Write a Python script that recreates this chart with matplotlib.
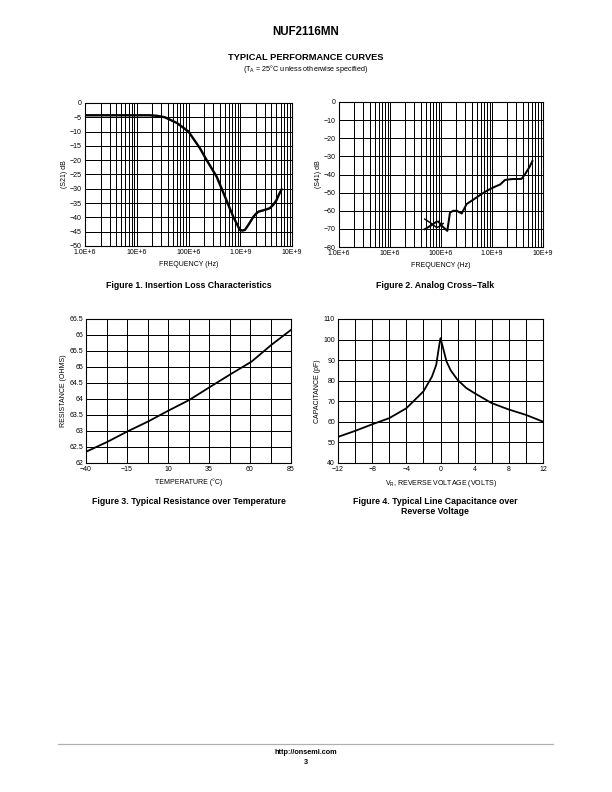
import matplotlib
matplotlib.use("Agg")
import matplotlib.pyplot as plt
from matplotlib.ticker import FixedLocator, LogLocator, NullFormatter

plt.rcParams['font.family'] = ['Liberation Sans', 'DejaVu Sans']
plt.rcParams['mathtext.fontset'] = 'custom'
plt.rcParams['mathtext.rm'] = 'Liberation Sans'
plt.rcParams['mathtext.it'] = 'Liberation Sans'

# ---------------- data ----------------
# Figure 1: insertion loss S21 (dB) vs frequency (Hz)
f1_freq = [1e6, 5e6, 10e6, 18e6, 25e6, 35e6, 60e6, 100e6, 166e6, 225e6, 351e6,
           500e6, 734e6, 900e6, 989e6, 1.1e9, 1.23e9, 1.45e9, 1.79e9, 2.0e9,
           2.24e9, 2.7e9, 3.2e9, 3.7e9, 4.3e9, 5.0e9, 5.6e9, 6.3e9]
f1_s21 = [-4.3, -4.3, -4.3, -4.3, -4.5, -5.0, -7.0, -10.0, -15.8, -20.0, -25.8,
          -32.5, -39.8, -43.0, -44.4, -44.6, -44.4, -42.5, -39.8, -38.8,
          -38.0, -37.6, -37.2, -36.8, -35.7, -34.0, -32.0, -30.2]

# Figure 2: analog cross-talk S41 (dB) vs frequency (Hz)
f2_freq = [48e6, 65e6, 82e6, 89e6, 105e6, 133e6, 150e6, 175e6, 203e6, 255e6,
           318e6, 450e6, 630e6, 850e6, 1.15e9, 1.45e9, 1.8e9, 2.5e9, 3.2e9,
           3.8e9, 4.5e9, 5.4e9, 6.2e9]
f2_s41 = [-70.2, -68.0, -66.0, -66.0, -68.5, -71.1, -61.0, -60.0, -60.0, -61.5,
          -56.3, -53.5, -50.7, -48.5, -46.7, -45.5, -43.0, -42.5, -42.5,
          -42.4, -39.6, -36.0, -32.6]
f2b_freq = [48e6, 65e6, 82e6, 95e6, 110e6]
f2b_s41 = [-64.6, -67.0, -69.3, -68.5, -67.0]

# Figure 3: resistance vs temperature
f3_temp = [-40, -27, -15, -2, 10, 23, 36, 48, 61, 73, 85]
f3_res = [62.35, 62.66, 62.98, 63.30, 63.63, 63.97, 64.39, 64.77, 65.17, 65.69, 66.16]

# Figure 4: capacitance vs reverse voltage
f4_volt = [-12, -10, -8, -6, -4, -2, -1, -0.5, -0.2, 0, 0.3, 0.7, 1.2, 2, 3, 4,
           6, 8, 10, 12]
f4_cap = [52.7, 55.6, 58.8, 61.8, 66.6, 74.8, 82.0, 87.7, 95.9, 100.7, 95.9,
          89.4, 85.0, 80.4, 76.5, 73.9, 69.1, 66.0, 63.4, 60.1]

freq_ticks = [1e6, 10e6, 100e6, 1e9, 10e9]
freq_labels = ["1.0E+6", "10E+6", "100E+6", "1.0E+9", "10E+9"]
s21_ticks = [0, -5, -10, -15, -20, -25, -30, -35, -40, -45, -50]
s41_ticks = [0, -10, -20, -30, -40, -50, -60, -70, -80]
temp_ticks = [-40, -15, 10, 35, 60, 85]
res_ticks = [62, 62.5, 63, 63.5, 64, 64.5, 65, 65.5, 66, 66.5]
res_labels = ["62", "62.5", "63", "63.5", "64", "64.5", "65", "65.5", "66", "66.5"]
volt_ticks = [-12, -8, -4, 0, 4, 8, 12]
cap_ticks = [40, 50, 60, 70, 80, 90, 100, 110]

# ---------------- figure ----------------
W, H = 612, 792
fig = plt.figure(figsize=(W / 72, H / 72), dpi=72)

def frac(l, t, r, b):
    return [l / W, 1 - b / H, (r - l) / W, (b - t) / H]

TICKFS = 7.0
LABFS = 7.0
CAPFS = 8.8
GRID = dict(color='black', linewidth=1.0)

def style(ax):
    ax.tick_params(which='both', length=0, labelsize=TICKFS, pad=3)
    for s in ax.spines.values():
        s.set_linewidth(1.1)
    ax.set_axisbelow(True)

# Figure 1
ax1 = fig.add_axes(frac(85, 103, 292, 246))
ax1.plot(f1_freq, f1_s21, color='black', linewidth=2.4)
ax1.set_xscale('log')
ax1.set_xlim(1e6, 10e9)
ax1.set_ylim(-50, 0)
ax1.xaxis.set_major_locator(FixedLocator(freq_ticks))
ax1.set_xticklabels(freq_labels)
ax1.xaxis.set_minor_locator(LogLocator(base=10, subs=range(2, 10), numticks=20))
ax1.xaxis.set_minor_formatter(NullFormatter())
ax1.set_yticks(s21_ticks)
ax1.grid(True, which='both', axis='x', **GRID)
ax1.grid(True, which='major', axis='y', **GRID)
ax1.set_xlabel("FREQUENCY (Hz)", fontsize=LABFS, labelpad=5)
ax1.set_ylabel("(S21) dB", fontsize=LABFS, labelpad=2)
style(ax1)

# Figure 2
ax2 = fig.add_axes(frac(339, 102, 543, 247))
ax2.plot(f2_freq, f2_s41, color='black', linewidth=2.0)
ax2.plot(f2b_freq, f2b_s41, color='black', linewidth=1.5)
ax2.set_xscale('log')
ax2.set_xlim(1e6, 10e9)
ax2.set_ylim(-80, 0)
ax2.xaxis.set_major_locator(FixedLocator(freq_ticks))
ax2.set_xticklabels(freq_labels)
ax2.xaxis.set_minor_locator(LogLocator(base=10, subs=range(2, 10), numticks=20))
ax2.xaxis.set_minor_formatter(NullFormatter())
ax2.set_yticks(s41_ticks)
ax2.grid(True, which='both', axis='x', **GRID)
ax2.grid(True, which='major', axis='y', **GRID)
ax2.set_xlabel("FREQUENCY (Hz)", fontsize=LABFS, labelpad=5)
ax2.set_ylabel("(S41) dB", fontsize=LABFS, labelpad=2)
style(ax2)

# Figure 3
ax3 = fig.add_axes(frac(86, 319, 291, 463))
ax3.plot(f3_temp, f3_res, color='black', linewidth=1.8)
ax3.set_xlim(-40, 85)
ax3.set_ylim(62, 66.5)
ax3.set_xticks(temp_ticks)
ax3.set_xticks([t + 12.5 for t in temp_ticks[:-1]], minor=True)
ax3.set_yticks(res_ticks)
ax3.set_yticklabels(res_labels)
ax3.grid(True, which='both', axis='x', **GRID)
ax3.grid(True, which='major', axis='y', **GRID)
ax3.set_xlabel("TEMPERATURE (°C)", fontsize=LABFS, labelpad=5)
ax3.set_ylabel("RESISTANCE (OHMS)", fontsize=LABFS, labelpad=2)
style(ax3)

# Figure 4
ax4 = fig.add_axes(frac(338, 319, 543, 463))
ax4.plot(f4_volt, f4_cap, color='black', linewidth=1.8)
ax4.set_xlim(-12, 12)
ax4.set_ylim(40, 110)
ax4.set_xticks(volt_ticks)
ax4.set_xticks([v + 2 for v in volt_ticks[:-1]], minor=True)
ax4.set_yticks(cap_ticks)
ax4.grid(True, which='both', axis='x', **GRID)
ax4.grid(True, which='major', axis='y', **GRID)
ax4.set_xlabel(r"V$_{\rm R}$, REVERSE VOLTAGE (VOLTS)", fontsize=LABFS, labelpad=5)
ax4.set_ylabel("CAPACITANCE (pF)", fontsize=LABFS, labelpad=2)
style(ax4)

# ---------------- page text ----------------
def t(x, y, s, **kw):
    fig.text(x / W, 1 - y / H, s, ha='center', va='center', **kw)

t(306, 32, "NUF2116MN", fontsize=11.5, fontweight='bold')
t(306, 57, "TYPICAL PERFORMANCE CURVES", fontsize=9.3, fontweight='bold')
t(306, 69, r"(T$_{\rm A}$ = 25°C unless otherwise specified)", fontsize=7.3)
t(189, 285, "Figure 1. Insertion Loss Characteristics", fontsize=CAPFS, fontweight='bold')
t(435, 285, "Figure 2. Analog Cross−Talk", fontsize=CAPFS, fontweight='bold')
t(189, 502, "Figure 3. Typical Resistance over Temperature", fontsize=CAPFS, fontweight='bold')
t(435, 502, "Figure 4. Typical Line Capacitance over", fontsize=CAPFS, fontweight='bold')
t(435, 512, "Reverse Voltage", fontsize=CAPFS, fontweight='bold')

fig.add_artist(plt.Line2D([58 / W, 553 / W], [1 - 744 / H, 1 - 744 / H],
                          color='#b0b0b0', linewidth=1.2))
t(306, 752, "http://onsemi.com", fontsize=7.3, fontweight='bold')
t(306, 762, "3", fontsize=7.3, fontweight='bold')

fig.savefig("out.png", dpi=72)
